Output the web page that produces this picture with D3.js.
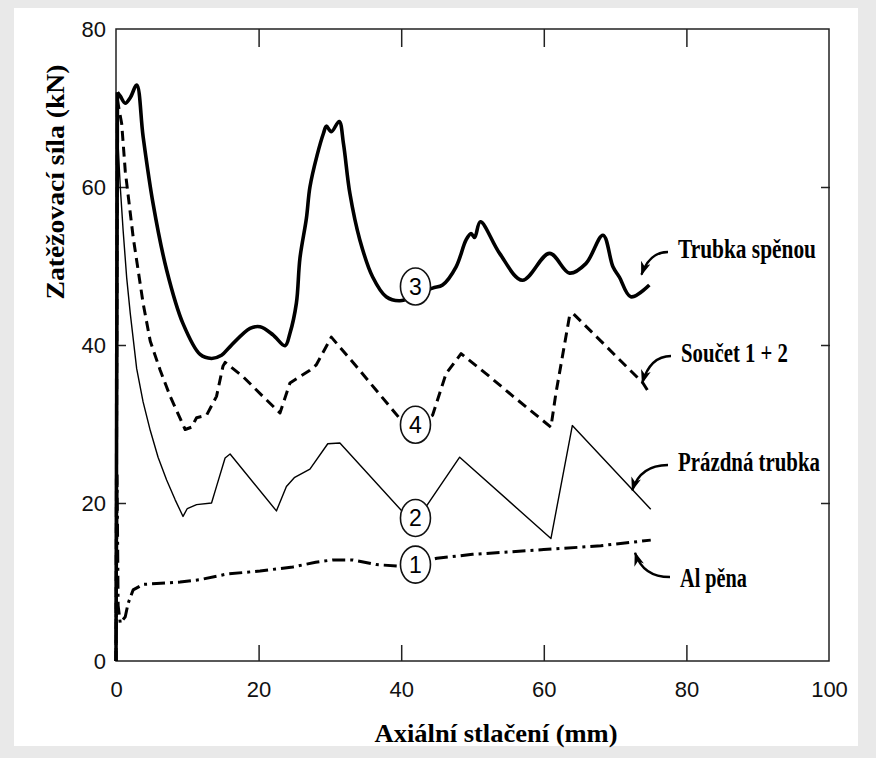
<!DOCTYPE html>
<html>
<head>
<meta charset="utf-8">
<script src="https://cdn.jsdelivr.net/npm/d3@7"></script>
<style>
	html, body { margin: 0; padding: 0; background: #e9e9e9; }
	svg { display: block; }
</style>
</head>
<body>
<div id="chart"></div>
<script>
const w = 876;
const h = 758;

// axis ticks
const xTicks = [0, 20, 40, 60, 80, 100];
const yTicks = [0, 20, 40, 60, 80];

// curves: [axial compression (mm), force (kN)]
const alPena = [
	[0, 0], [0.15, 23.5], [0.3, 7], [0.6, 4.8], [1.3, 5.6], [1.7, 7.3], [2.4, 9.0], [3.8, 9.7],
	[5.7, 9.8], [9.0, 10.0], [11.8, 10.3], [15.5, 11.0], [20.2, 11.4], [24.8, 11.9], [28, 12.5],
	[30.4, 12.8], [33.2, 12.8], [36.5, 12.2], [39.8, 12.0], [42, 12.3], [45, 13.0], [50, 13.5],
	[55, 13.8], [60, 14.1], [65, 14.4], [68, 14.6], [75, 15.3]
];

const prazdnaTrubka = [
	[0, 0], [0.2, 67], [0.6, 60], [1.0, 54.5], [1.5, 48.5], [2.0, 44], [2.9, 37], [3.8, 32.8],
	[4.8, 29.2], [5.9, 25.8], [7.1, 22.9], [8.3, 20.4], [9.4, 18.3], [10, 19.3], [11.3, 19.8],
	[13.4, 20.0], [14.1, 22.1], [15.3, 25.7], [16, 26.2], [22.5, 19.0], [23.9, 22.1], [25, 23.2],
	[27.2, 24.3], [29.7, 27.5], [31.4, 27.6], [41.8, 17.3], [48.2, 25.8], [61, 15.5], [64, 29.8],
	[75, 19.2]
];

const trubkaPenou = [
	[0, 0], [0.2, 72], [0.6, 71.5], [1.3, 70.6], [2.0, 71.3], [2.9, 72.9], [3.8, 66.4], [5.2, 57.9],
	[7.1, 49.5], [9.4, 42.7], [11.8, 38.8], [13.4, 38.3], [14.8, 38.7], [16, 39.8], [18.8, 42.1],
	[20.2, 42.3], [22, 41.3], [23.7, 39.9], [24.4, 41.5], [25.3, 45.3], [25.8, 51], [26.7, 56],
	[27.2, 60], [28.2, 64], [29.1, 66.8], [29.5, 67.7], [30.2, 67.0], [31.3, 68.3], [31.9, 65.5],
	[32.8, 59.2], [34.2, 53.3], [36.0, 48.6], [37.9, 46.1], [39.8, 45.6], [42, 46.3], [44.4, 47.2],
	[45.8, 47.6], [47.7, 49.9], [49.1, 53.3], [49.8, 54.1], [50.3, 53.6], [51.1, 55.6], [53.8, 51.6],
	[57.0, 48.2], [60.8, 51.6], [63.6, 49.1], [65.9, 50.3], [68.3, 53.9], [69.7, 49.9], [70.6, 48.6],
	[72.2, 46.1], [74.8, 47.6]
];

const soucet = [
	[0, 0], [0.2, 71], [0.8, 68], [1.3, 62], [2.4, 53.7], [3.8, 45.3], [4.8, 40.5], [6.2, 36.8],
	[7.6, 33.5], [9.7, 29.3], [10.6, 29.6], [11.3, 30.8], [12.7, 31.1], [14.1, 33.5], [15.0, 37.3],
	[15.3, 37.8], [17.8, 36.0], [20.6, 33.5], [23.0, 31.4], [24.4, 35.2], [27.2, 36.8], [28.1, 37.5],
	[30.2, 41.0], [33.7, 37.3], [39.8, 30.7], [42, 29.8], [44.4, 31.1], [46.3, 36.4], [48.4, 38.9],
	[52.4, 36.0], [55.7, 33.5], [61, 29.6], [61.7, 33.9], [63.6, 43.6], [64.1, 44.0], [73.9, 35.2],
	[74.8, 33.9]
];

// numbered circles on the curves
const markers = [
	{label: '3', x: 42, y: 47.4},
	{label: '4', x: 42, y: 29.9},
	{label: '2', x: 42, y: 18.1},
	{label: '1', x: 42, y: 12.2}
];

// arrow tips (data units) for the curve names
const annotations = [
	{name: 'Trubka spěnou', tipX: 73.7, tipY: 48.9},
	{name: 'Součet 1 + 2', tipX: 73.8, tipY: 35.2},
	{name: 'Prázdná trubka', tipX: 72.4, tipY: 21.6},
	{name: 'Al pěna', tipX: 72.8, tipY: 13.7}
];
// label placement (px) and widths
const annoPos = [
	{lx: 678, ly: 258, len: 138},
	{lx: 681, ly: 362, len: 107},
	{lx: 678, ly: 471, len: 142},
	{lx: 680, ly: 587, len: 67}
];

const svg = d3
	.select('#chart')
	.append('svg')
	.attr('width', w)
	.attr('height', h);

svg
	.append('rect')
	.attr('x', 14)
	.attr('y', 8)
	.attr('width', 844)
	.attr('height', 738)
	.attr('fill', '#fff');

const xScale = d3.scaleLinear().domain([0, 100]).range([116, 829]);
const yScale = d3.scaleLinear().domain([0, 80]).range([661, 29]);

const plotLeft = xScale(0);
const plotRight = xScale(100);
const plotTop = yScale(80);
const plotBottom = yScale(0);

const sans = 'Liberation Sans, Arial, sans-serif';
const serif = 'Liberation Serif, Times New Roman, serif';

// tick labels
const xLabels = svg
	.append('g')
	.attr('transform', `translate(0, ${plotBottom})`)
	.call(d3.axisBottom(xScale).tickValues(xTicks).tickSize(0).tickPadding(20));

const yLabels = svg
	.append('g')
	.attr('transform', `translate(${plotLeft}, 0)`)
	.call(d3.axisLeft(yScale).tickValues(yTicks).tickSize(0).tickPadding(10));

[xLabels, yLabels].forEach(g => {
	g.select('.domain').remove();
	g.selectAll('text').style('font-family', sans).style('font-size', '22px').attr('fill', '#111');
});

// inner tick marks
const inner = [20, 40, 60, 80];
const tickAxes = [
	[d3.axisBottom(xScale).tickValues(inner).tickSize(-16), `translate(0, ${plotBottom})`],
	[d3.axisTop(xScale).tickValues(inner).tickSize(-18), `translate(0, ${plotTop})`],
	[d3.axisLeft(yScale).tickValues([20, 40, 60]).tickSize(-10), `translate(${plotLeft}, 0)`],
	[d3.axisRight(yScale).tickValues([20, 40, 60]).tickSize(-9), `translate(${plotRight + 1}, 0)`]
];
tickAxes.forEach(([ax, tr]) => {
	const g = svg.append('g').attr('transform', tr).call(ax.tickFormat(''));
	g.select('.domain').remove();
	g.selectAll('line').attr('stroke', '#222').attr('stroke-width', 1.5);
});

svg
	.append('rect')
	.attr('x', plotLeft)
	.attr('y', plotTop)
	.attr('width', plotRight - plotLeft)
	.attr('height', plotBottom - plotTop)
	.attr('fill', 'none')
	.attr('stroke', '#222')
	.attr('stroke-width', 1.5);

// curves (foam-filled tube: straight initial rise, then smoothed)
const series = [
	{data: alPena, width: 3, dash: '13,5,3,5', curve: d3.curveLinear},
	{data: prazdnaTrubka, width: 1.4, dash: null, curve: d3.curveLinear},
	{data: soucet, width: 3, dash: '10,6', curve: d3.curveLinear},
	{data: trubkaPenou.slice(0, 2), width: 3.6, dash: null, curve: d3.curveLinear},
	{data: trubkaPenou.slice(1), width: 3.6, dash: null, curve: d3.curveCatmullRom.alpha(0.5)}
];

svg
	.selectAll('path.curve')
	.data(series)
	.enter()
	.append('path')
	.attr('class', 'curve')
	.attr('d', d =>
		d3
			.line()
			.x(p => xScale(p[0]))
			.y(p => yScale(p[1]))
			.curve(d.curve)(d.data)
	)
	.attr('fill', 'none')
	.attr('stroke', '#000')
	.attr('stroke-width', d => d.width)
	.attr('stroke-linejoin', 'round')
	.attr('stroke-dasharray', d => d.dash);

// numbered circles
const mk = svg
	.selectAll('g.marker')
	.data(markers)
	.enter()
	.append('g')
	.attr('class', 'marker')
	.attr('transform', d => `translate(${xScale(d.x)}, ${yScale(d.y)})`);

mk
	.append('ellipse')
	.attr('rx', 15)
	.attr('ry', 18.5)
	.attr('fill', '#fff')
	.attr('stroke', '#111')
	.attr('stroke-width', 1.6);

mk
	.append('text')
	.attr('text-anchor', 'middle')
	.attr('dy', '0.36em')
	.style('font-family', sans)
	.style('font-size', '23px')
	.text(d => d.label);

// arrows + names
svg
	.append('defs')
	.append('marker')
	.attr('id', 'head')
	.attr('markerUnits', 'userSpaceOnUse')
	.attr('markerWidth', 16)
	.attr('markerHeight', 12)
	.attr('refX', 13)
	.attr('refY', 5)
	.attr('orient', 'auto')
	.append('path')
	.attr('d', 'M0,0 L14,5 L0,10 L4,5 Z')
	.attr('fill', '#000');

annotations.forEach((a, i) => {
	const p = annoPos[i];
	const tx = xScale(a.tipX);
	const ty = yScale(a.tipY);
	const sx = p.lx - 10;
	const sy = p.ly - (ty < p.ly - 8 ? 10 : 6);
	svg
		.append('path')
		.attr('d', `M${sx},${sy} Q${tx + 8},${sy} ${tx},${ty}`)
		.attr('fill', 'none')
		.attr('stroke', '#000')
		.attr('stroke-width', 2.4)
		.attr('marker-end', 'url(#head)');

	svg
		.append('text')
		.attr('x', p.lx)
		.attr('y', p.ly)
		.attr('textLength', p.len)
		.attr('lengthAdjust', 'spacingAndGlyphs')
		.style('font-family', serif)
		.style('font-weight', 'bold')
		.style('font-size', '27px')
		.text(a.name);
});

// axis titles
svg
	.append('text')
	.attr('x', 496)
	.attr('y', 742)
	.attr('text-anchor', 'middle')
	.attr('textLength', 243)
	.attr('lengthAdjust', 'spacingAndGlyphs')
	.style('font-family', serif)
	.style('font-weight', 'bold')
	.style('font-size', '25px')
	.text('Axiální stlačení (mm)');

svg
	.append('text')
	.attr('transform', 'translate(64, 182) rotate(-90)')
	.attr('text-anchor', 'middle')
	.attr('textLength', 235)
	.attr('lengthAdjust', 'spacingAndGlyphs')
	.style('font-family', serif)
	.style('font-weight', 'bold')
	.style('font-size', '25px')
	.text('Zatěžovací síla (kN)');
</script>
</body>
</html>
